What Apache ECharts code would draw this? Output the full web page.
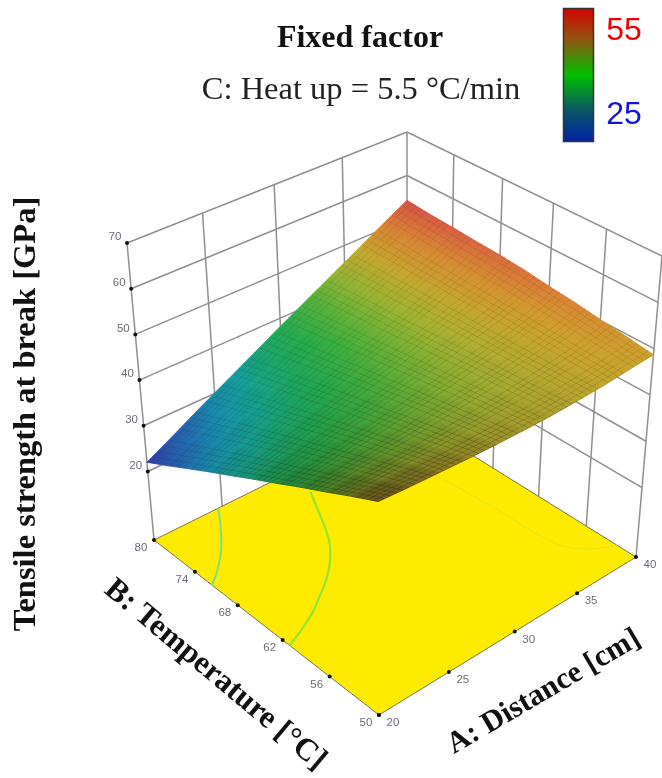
<!DOCTYPE html>
<html>
<head>
<meta charset="utf-8">
<script src="https://cdn.jsdelivr.net/npm/echarts@6/dist/echarts.min.js"></script>
<style>html,body{margin:0;padding:0;background:#fff}#chart{width:662px;height:778px;filter:blur(.55px)}</style>
</head>
<body>
<div id="chart"></div>
<script>
// ---------- data ----------
const distanceGrid = [20,22,24,26,28,30,32,34,36,38,40];
const temperatureGrid = [50,53,56,59,62,65,68,71,74,77,80];
const strengthAt50 = [48.5,48.1,47.8,47.5,47.3,47.2,47.2,47.4,47.7,48.2,48.7];
const strengthAt53 = [45.9,45.8,45.9,45.9,46.1,46.3,46.6,47.1,47.7,48.5,49.5];
const strengthAt56 = [43.2,43.5,43.9,44.3,44.8,45.4,46.0,46.8,47.7,48.8,50.2];
const strengthAt59 = [40.6,41.2,42.0,42.8,43.6,44.5,45.5,46.6,47.7,49.1,51.0];
const strengthAt62 = [37.9,38.9,40.1,41.2,42.3,43.6,44.9,46.3,47.7,49.4,51.6];
const strengthAt65 = [35.3,36.7,38.2,39.6,41.1,42.7,44.3,46.0,47.8,49.7,52.3];
const strengthAt68 = [32.6,34.4,36.2,38.0,39.9,41.8,43.7,45.7,47.8,49.9,52.8];
const strengthAt71 = [30.0,32.1,34.3,36.4,38.6,40.9,43.1,45.4,47.8,50.2,53.1];
const strengthAt74 = [27.3,29.8,32.4,34.9,37.4,40.0,42.6,45.2,47.8,50.5,53.5];
const strengthAt77 = [24.6,27.5,30.4,33.3,36.1,39.1,42.0,44.9,47.8,50.8,53.8];
const strengthAt80 = [22.0,25.2,28.5,31.7,34.9,38.2,41.4,44.6,47.8,51.1,54.3];
const strengthRows = [strengthAt50,strengthAt53,strengthAt56,strengthAt59,strengthAt62,strengthAt65,strengthAt68,strengthAt71,strengthAt74,strengthAt77,strengthAt80];

const distanceTicks = [20,25,30,35,40];
const temperatureTicks = [50,56,62,68,74,80];
const strengthTicks = [20,30,40,50,60,70];
const legendLabels = ['55','25'];

const contourLow  = {A:[20,21.4,23.1,24.7], B:[71.6,73.4,76.4,80]};
const contourMid  = {A:[20,22.4,23.9,25.5,27.1,27.9,28.6,29.9], B:[61.1,62.8,64.3,66.1,68.6,70.4,72.4,76.4]};
const contourHigh = {A:[36.8,37.2,37.3,38,40], B:[70.8,62.4,57.4,54.3,52.3]};

// ---------- view of the box (screen corners: left, back, right, front) ----------
const Z_FLOOR = 5, Z_TOP = 70;
const floorQuad = [[154,540],[407,414.5],[636,557],[379,715]];
const topQuad   = [[127,243],[407,132],[662,256],[378,396]];
function homography(q){
  const [p0,p1,p2,p3]=q;
  const dx1=p1[0]-p2[0],dx2=p3[0]-p2[0],sx=p0[0]-p1[0]+p2[0]-p3[0];
  const dy1=p1[1]-p2[1],dy2=p3[1]-p2[1],sy=p0[1]-p1[1]+p2[1]-p3[1];
  const den=dx1*dy2-dx2*dy1;
  const g=(sx*dy2-dx2*sy)/den,h=(dx1*sy-sx*dy1)/den;
  return (u,v)=>{
    const w=1+g*u+h*v;
    return [(p0[0]+(p1[0]-p0[0]+g*p1[0])*u+(p3[0]-p0[0]+h*p3[0])*v)/w,
            (p0[1]+(p1[1]-p0[1]+g*p1[1])*u+(p3[1]-p0[1]+h*p3[1])*v)/w];
  };
}
const floorH=homography(floorQuad), topH=homography(topQuad);
function project(A,B,Z){
  const u=(A-20)/20, v=(80-B)/30, t=(Z-Z_FLOOR)/(Z_TOP-Z_FLOOR);
  const f=floorH(u,v), p=topH(u,v);
  return [f[0]+(p[0]-f[0])*t, f[1]+(p[1]-f[1])*t];
}

// ---------- colours ----------
const ramp=[[20,[60,45,160]],[24,[45,75,170]],[28,[25,125,180]],[32,[20,160,170]],[36,[25,165,100]],[40,[45,175,65]],[43,[105,180,55]],[46,[175,180,50]],[49,[210,160,45]],[52,[220,120,55]],[55,[215,70,75]]];
function colour(z,shade){
  let i=0; while(i<ramp.length-2 && z>ramp[i+1][0]) i++;
  const a=ramp[i],b=ramp[i+1],t=Math.max(0,Math.min(1,(z-a[0])/(b[0]-a[0])));
  const c=[0,1,2].map(k=>Math.round((a[1][k]+(b[1][k]-a[1][k])*t)*shade));
  return `rgb(${c[0]},${c[1]},${c[2]})`;
}
const GRID_LINE='#8f8f8f', TICK_TEXT='#6b6b78';
const SANS='"Liberation Sans", Arial, sans-serif', SERIF='"Liberation Serif", "Times New Roman", serif';

// ---------- marks ----------
const wallLines=[];
strengthTicks.forEach(z=>{
  wallLines.push([20,80,z,40,80,z]);
  wallLines.push([40,80,z,40,50,z]);
});
[20,25,30,35,40].forEach(a=>wallLines.push([a,80,Z_FLOOR,a,80,Z_TOP]));
[74,68,62,56,50].forEach(b=>wallLines.push([40,b,Z_FLOOR,40,b,Z_TOP]));

const cells=[];
for(let j=temperatureGrid.length-2;j>=0;j--){
  for(let i=distanceGrid.length-2;i>=0;i--) cells.push([i,j]);
}
const SUB=5;
function renderCell(params,api){
  const i=api.value(0), j=api.value(1);
  const corner=(ci,cj)=>({p:api.coord(project(distanceGrid[ci],temperatureGrid[cj],strengthRows[cj][ci])),z:strengthRows[cj][ci]});
  const c=[corner(i,j),corner(i+1,j),corner(i+1,j+1),corner(i,j+1)];
  const u=(i+.5)/10, v=1-(j+.5)/10, front=v*(1-u);
  const shade=1-.55*front*front;
  const lo=c.reduce((m,x)=>x.z<m.z?x:m), hi=c.reduce((m,x)=>x.z>m.z?x:m);
  // shading axis follows the cell's own slope on screen
  const d1=[(c[1].p[0]-c[0].p[0]+c[2].p[0]-c[3].p[0])/2,(c[1].p[1]-c[0].p[1]+c[2].p[1]-c[3].p[1])/2];
  const d2=[(c[3].p[0]-c[0].p[0]+c[2].p[0]-c[1].p[0])/2,(c[3].p[1]-c[0].p[1]+c[2].p[1]-c[1].p[1])/2];
  const z1=(c[1].z-c[0].z+c[2].z-c[3].z)/2, z2=(c[3].z-c[0].z+c[2].z-c[1].z)/2;
  const det=d1[0]*d2[1]-d1[1]*d2[0];
  const ga=(z1*d2[1]-z2*d1[1])/det, gb=(d1[0]*z2-d2[0]*z1)/det, g2=ga*ga+gb*gb||1e-6;
  const span=(hi.z-lo.z)/g2;
  const fill=new echarts.graphic.LinearGradient(lo.p[0],lo.p[1],lo.p[0]+ga*span,lo.p[1]+gb*span,
    [{offset:0,color:colour(lo.z,shade)},{offset:1,color:colour(hi.z,shade)}],true);
  const children=[{type:'polygon',shape:{points:c.map(x=>x.p)},style:{fill:fill,stroke:fill,lineWidth:.8}}];
  const alpha=.14+.3*front;
  const mix=(a,b,t)=>[a[0]+(b[0]-a[0])*t,a[1]+(b[1]-a[1])*t];
  const lineStyle={stroke:`rgba(30,25,10,${alpha})`,lineWidth:.7};
  for(let k=0;k<SUB;k++){
    const t=k/SUB;
    let a=mix(c[0].p,c[1].p,t), b=mix(c[3].p,c[2].p,t);
    children.push({type:'line',shape:{x1:a[0],y1:a[1],x2:b[0],y2:b[1]},style:lineStyle});
    a=mix(c[0].p,c[3].p,t); b=mix(c[1].p,c[2].p,t);
    children.push({type:'line',shape:{x1:a[0],y1:a[1],x2:b[0],y2:b[1]},style:lineStyle});
  }
  return {type:'group',children:children};
}
function polySeries(name,contour,color,width,z){
  return {type:'custom',name,coordinateSystem:'cartesian2d',z,silent:true,clip:false,animation:false,
    data:[[0,0]],
    renderItem:(p,api)=>({type:'polyline',
      shape:{points:contour.A.map((a,k)=>api.coord(project(a,contour.B[k],Z_FLOOR))),smooth:.5},
      style:{stroke:color,lineWidth:width,fill:null}})};
}
const tickMarks=[];
strengthTicks.forEach(z=>tickMarks.push({A:20,B:80,Z:z,text:String(z),dx:-12,dy:-6}));
temperatureTicks.forEach(b=>tickMarks.push({A:20,B:b,Z:Z_FLOOR,text:String(b),dx:-13,dy:8}));
distanceTicks.forEach(a=>tickMarks.push({A:a,B:50,Z:Z_FLOOR,text:String(a),dx:14,dy:8}));

const series=[
 {type:'custom',name:'walls',coordinateSystem:'cartesian2d',z:2,silent:true,clip:false,animation:false,
  data:wallLines,
  renderItem:(p,api)=>{
    const a=api.coord(project(api.value(0),api.value(1),api.value(2)));
    const b=api.coord(project(api.value(3),api.value(4),api.value(5)));
    return {type:'line',shape:{x1:a[0],y1:a[1],x2:b[0],y2:b[1]},style:{stroke:GRID_LINE,lineWidth:1.5}};
  }},
 {type:'custom',name:'floor',coordinateSystem:'cartesian2d',z:3,silent:true,clip:false,animation:false,
  data:[[0,0]],
  renderItem:(p,api)=>({type:'polygon',
    shape:{points:[[20,80],[40,80],[40,50],[20,50]].map(q=>api.coord(project(q[0],q[1],Z_FLOOR)))},
    style:{fill:'#ffeb00',stroke:'#77745a',lineWidth:1}})},
 polySeries('contour low',contourLow,'#86e070',2.2,4),
 polySeries('contour mid',contourMid,'#8ee62e',2.2,4),
 polySeries('contour high',contourHigh,'#dde61e',1,4),
 {type:'custom',name:'ticks',coordinateSystem:'cartesian2d',z:5,silent:true,clip:false,animation:false,
  data:tickMarks.map((t,i)=>[i,0]),
  renderItem:(p,api)=>{
    const t=tickMarks[api.value(0)], q=api.coord(project(t.A,t.B,t.Z));
    return {type:'group',children:[
      {type:'circle',shape:{cx:q[0],cy:q[1],r:2},style:{fill:'#111'}},
      {type:'text',x:q[0]+t.dx,y:q[1]+t.dy,style:{text:t.text,fill:TICK_TEXT,font:'11.5px '+SANS,textAlign:'center',textVerticalAlign:'middle'}}
    ]};
  }},
 {type:'custom',name:'surface',coordinateSystem:'cartesian2d',z:6,silent:true,clip:false,animation:false,
  data:cells,renderItem:renderCell}
];

const chart=echarts.init(document.getElementById('chart'),null,{renderer:'canvas',width:662,height:778});
chart.setOption({
  animation:false,
  backgroundColor:'#fff',
  grid:{left:0,right:0,top:0,bottom:0},
  xAxis:{type:'value',min:0,max:662,show:false},
  yAxis:{type:'value',min:0,max:778,inverse:true,show:false},
  series:series,
  graphic:[
    {type:'text',x:360,y:39,z:10,style:{text:'Fixed factor',font:'bold 32px '+SERIF,fill:'#111',textAlign:'center',textVerticalAlign:'middle'}},
    {type:'text',x:361,y:90,z:10,style:{text:'C: Heat up = 5.5 °C/min',font:'32.5px '+SERIF,fill:'#222',textAlign:'center',textVerticalAlign:'middle'}},
    {type:'rect',x:563.5,y:8.5,z:10,shape:{width:30,height:133},style:{stroke:'#333',lineWidth:1.5,
      fill:{type:'linear',x:0,y:0,x2:0,y2:1,colorStops:[{offset:0,color:'#d80000'},{offset:.25,color:'#8a5a10'},{offset:.5,color:'#00c000'},{offset:.75,color:'#0a5a60'},{offset:1,color:'#0020a8'}]}}},
    {type:'text',x:624,y:31,z:10,style:{text:legendLabels[0],font:'32px '+SANS,fill:'#f00000',textAlign:'center',textVerticalAlign:'middle'}},
    {type:'text',x:624,y:115,z:10,style:{text:legendLabels[1],font:'32px '+SANS,fill:'#1414d8',textAlign:'center',textVerticalAlign:'middle'}},
    {type:'text',x:27,y:414,rotation:Math.PI/2,z:10,style:{text:'Tensile strength at break [GPa]',font:'bold 32.5px '+SERIF,fill:'#111',textAlign:'center',textVerticalAlign:'middle'}},
    {type:'text',x:215,y:675,rotation:-40*Math.PI/180,z:10,style:{text:'B: Temperature [°C]',font:'bold 31.5px '+SERIF,fill:'#111',textAlign:'center',textVerticalAlign:'middle'}},
    {type:'text',x:544,y:692,rotation:30.5*Math.PI/180,z:10,style:{text:'A: Distance [cm]',font:'bold 30.5px '+SERIF,fill:'#111',textAlign:'center',textVerticalAlign:'middle'}}
  ]
});
</script>
</body>
</html>
